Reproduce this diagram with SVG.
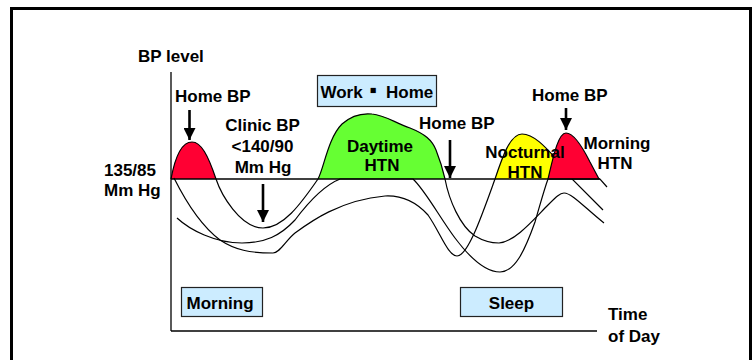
<svg xmlns="http://www.w3.org/2000/svg" width="754" height="360" viewBox="0 0 754 360">
<style>
text{font-family:"Liberation Sans",Arial,sans-serif;font-weight:bold;font-size:17px;fill:#000}
.c{text-anchor:middle}
.curve{fill:none;stroke:#000;stroke-width:1.2}
.box{fill:#CCECFF;stroke:#222;stroke-width:1.2}
.arr{stroke:#000;stroke-width:2.6;fill:none}
</style>
<defs>
<marker id="ah" markerUnits="userSpaceOnUse" markerWidth="12" markerHeight="12" refX="10" refY="5" orient="auto" viewBox="0 0 10 10">
<path d="M0,0 L10,5 L0,10 Z" fill="#000"/>
</marker>
</defs>
<rect width="754" height="360" fill="#fff"/>
<rect x="11.5" y="8.5" width="739" height="360" fill="none" stroke="#000" stroke-width="3"/>

<g id="fills">
<path d="M171,179 C176,152 183,142 192,142 C201,142 208,155 216,179 Z" fill="#FF0033"/>
<path d="M318,179 C324,168 328,138 342,124 C352,115 362,113 372,114 C385,115 395,123 410,128 C425,134 432,140 436,150 C440,160 443,170 445,179 Z" fill="#66FF33"/>
<path d="M495,179 C502,158 510,134 522,134 C535,134 548,150 560,163 C566,170 570,175 572,179 Z" fill="#FFFF00"/>
</g>

<g id="curves">
<path class="curve" d="M171,179 C176,152 183,142 192,142 C201,142 208,155 216,179 C221,194 240,228 263,228 C283,228 300,205 318,179 C324,168 328,138 342,124 C352,115 362,113 372,114 C385,115 395,123 410,128 C425,134 432,140 436,150 C440,160 443,170 445,179 C449,200 460,226 475,236 C485,242 492,243 499,243 C515,242 535,218 548,205 C556,197 560,193 564,193 C572,193 585,208 604,223"/>
<path class="curve" d="M174,178 C185,200 200,225 220,240 C235,250 250,253 273,253 C280,253 286,240 295,233 C310,222 340,200 385,196 C405,195 418,204 428,215 C440,232 448,256 457,256 C468,256 482,215 495,179 C502,158 510,134 522,134 C535,134 548,150 560,163 C566,170 570,175 572,179 L603,210"/>
<path class="curve" d="M177,218 C190,230 215,243 242,243 C265,243 280,236 295,220 C310,200 325,185 340,179 L413,179 C425,190 440,218 455,238 C470,258 485,272 500,272 C515,272 525,250 535,222 C540,205 544,190 548,179 L600,179 L607,187"/>
</g>

<g id="red-right">
<path d="M548,179 C553,158 558,133 566,133 C574,133 584,150 590,162 L599,179 Z" fill="#FF0033" stroke="#000" stroke-width="1.2" stroke-linejoin="round"/>
</g>

<g id="axes">
<line x1="171" y1="72" x2="171" y2="331" stroke="#000" stroke-width="1.3"/>
<line x1="171" y1="331" x2="597" y2="331" stroke="#000" stroke-width="1.3"/>
<line x1="171" y1="179" x2="600" y2="179" stroke="#000" stroke-width="1.5"/>
</g>

<g id="connectors">
<line class="arr" x1="189.5" y1="110" x2="189.5" y2="140" marker-end="url(#ah)"/>
<line class="arr" x1="263" y1="184" x2="263" y2="222" marker-end="url(#ah)"/>
<line class="arr" x1="450" y1="140" x2="450" y2="178" marker-end="url(#ah)"/>
<line class="arr" x1="566" y1="108" x2="566" y2="130" marker-end="url(#ah)"/>
</g>

<g id="bp-level"><text x="138" y="62">BP level</text></g>
<g id="threshold-label"><text x="104" y="176">135/85</text><text x="104" y="196">Mm Hg</text></g>
<g id="home-bp-1"><text x="175" y="102">Home BP</text></g>
<g id="clinic-bp"><text class="c" x="262.5" y="131">Clinic BP</text><text class="c" x="262.5" y="152">&lt;140/90</text><text class="c" x="263" y="173">Mm Hg</text></g>
<g id="work-home"><rect class="box" x="317.5" y="75.5" width="119" height="31"/><text y="98"><tspan x="369.5" y="96.5" font-size="21">▪</tspan><tspan x="320.5" y="98">Work</tspan><tspan x="386" y="98">Home</tspan></text></g>
<g id="daytime-htn"><text class="c" x="380" y="152">Daytime</text><text class="c" x="382" y="171">HTN</text></g>
<g id="home-bp-2"><text x="419" y="128.5">Home BP</text></g>
<g id="nocturnal-htn"><text class="c" x="525" y="157.5" font-size="16.5">Nocturnal</text><text class="c" x="525" y="177.5">HTN</text></g>
<g id="home-bp-3"><text x="532" y="101">Home BP</text></g>
<g id="morning-htn"><text class="c" x="617" y="148.5">Morning</text><text class="c" x="615" y="168.5">HTN</text></g>
<g id="morning-box"><rect class="box" x="181.5" y="287.5" width="81" height="29"/><text x="186.5" y="309">Morning</text></g>
<g id="sleep-box"><rect class="box" x="460.5" y="287.5" width="102" height="29"/><text class="c" x="511.5" y="309">Sleep</text></g>
<g id="time-of-day"><text x="608" y="320">Time</text><text x="608" y="341.5">of Day</text></g>
</svg>
